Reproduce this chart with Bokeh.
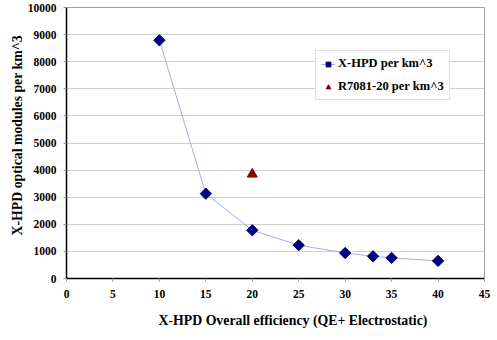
import math
from bokeh.plotting import figure
from bokeh.models import Range1d, SingleIntervalTicker, Legend, LegendItem, Title
from bokeh.embed import file_html
from bokeh.resources import INLINE

# Data
xhpd_eff = [10, 15, 20, 25, 30, 33, 35, 40]
xhpd_modules = [8790, 3130, 1780, 1230, 940, 820, 760, 650]
r7081_eff = [20]
r7081_modules = [3850]

x_label = "X-HPD Overall efficiency (QE+ Electrostatic)"
y_label = "X-HPD optical modules per km^3"
series_names = ["X-HPD per km^3", "R7081-20 per km^3"]

FONT = "Liberation Serif"

p = figure(width=497, height=340, output_backend="svg", toolbar_location=None,
           x_range=Range1d(0, 45), y_range=Range1d(0, 10000),
           min_border_left=66, min_border_right=13, min_border_top=7, min_border_bottom=62)

p.background_fill_color = "white"
p.border_fill_color = "white"
p.outline_line_color = "#a0a0a0"
p.outline_line_width = 1

# Axes
p.xaxis.ticker = SingleIntervalTicker(interval=5)
p.yaxis.ticker = SingleIntervalTicker(interval=1000)
for ax in (p.xaxis[0], p.yaxis[0]):
    ax.axis_line_color = "black"
    ax.axis_line_width = 1.5
    ax.major_tick_line_color = "#999999"
    ax.major_tick_in = 0
    ax.major_tick_out = 3
    ax.minor_tick_line_color = None
    ax.major_label_text_font = FONT
    ax.major_label_text_font_style = "bold"
    ax.major_label_text_font_size = "11.5px"
    ax.major_label_text_color = "black"
p.xaxis.major_label_standoff = 7
p.yaxis.major_label_standoff = 6

p.xgrid.grid_line_color = None
p.ygrid.grid_line_color = "#d0d0d0"
p.ygrid.grid_line_width = 1

# Axis titles
xt = Title(text=x_label, align="left", offset=92, text_font=FONT,
           text_font_style="bold", text_font_size="13.8px", text_color="black",
           standoff=21)
p.add_layout(xt, "below")
yt = Title(text=y_label, align="left", offset=43, text_font=FONT,
           text_font_style="bold", text_font_size="13.8px", text_color="black",
           standoff=0)
p.add_layout(yt, "left")

# Series
ln = p.line(xhpd_eff, xhpd_modules, line_color="#aaaaee", line_width=1)
d = p.scatter(xhpd_eff, xhpd_modules, marker="square", size=8, angle=math.pi / 4,
              fill_color="#000080", line_color="#000080")
t = p.scatter(r7081_eff, r7081_modules, marker="triangle", size=10,
              fill_color="#8B0000", line_color="#8B0000")

legend = Legend(items=[LegendItem(label=series_names[0], renderers=[ln, d]),
                       LegendItem(label=series_names[1], renderers=[t])],
                location=(249, 178))
legend.label_text_font = FONT
legend.label_text_font_style = "bold"
legend.label_text_font_size = "12.5px"
legend.label_text_color = "black"
legend.border_line_color = "#c0c0c0"
legend.background_fill_color = "white"
legend.background_fill_alpha = 1
legend.glyph_width = 14
legend.glyph_height = 12
legend.spacing = 8
legend.padding = 5
legend.margin = 0
legend.label_standoff = 3
p.add_layout(legend, "center")

open("out.html", "w").write(file_html(p, INLINE))
